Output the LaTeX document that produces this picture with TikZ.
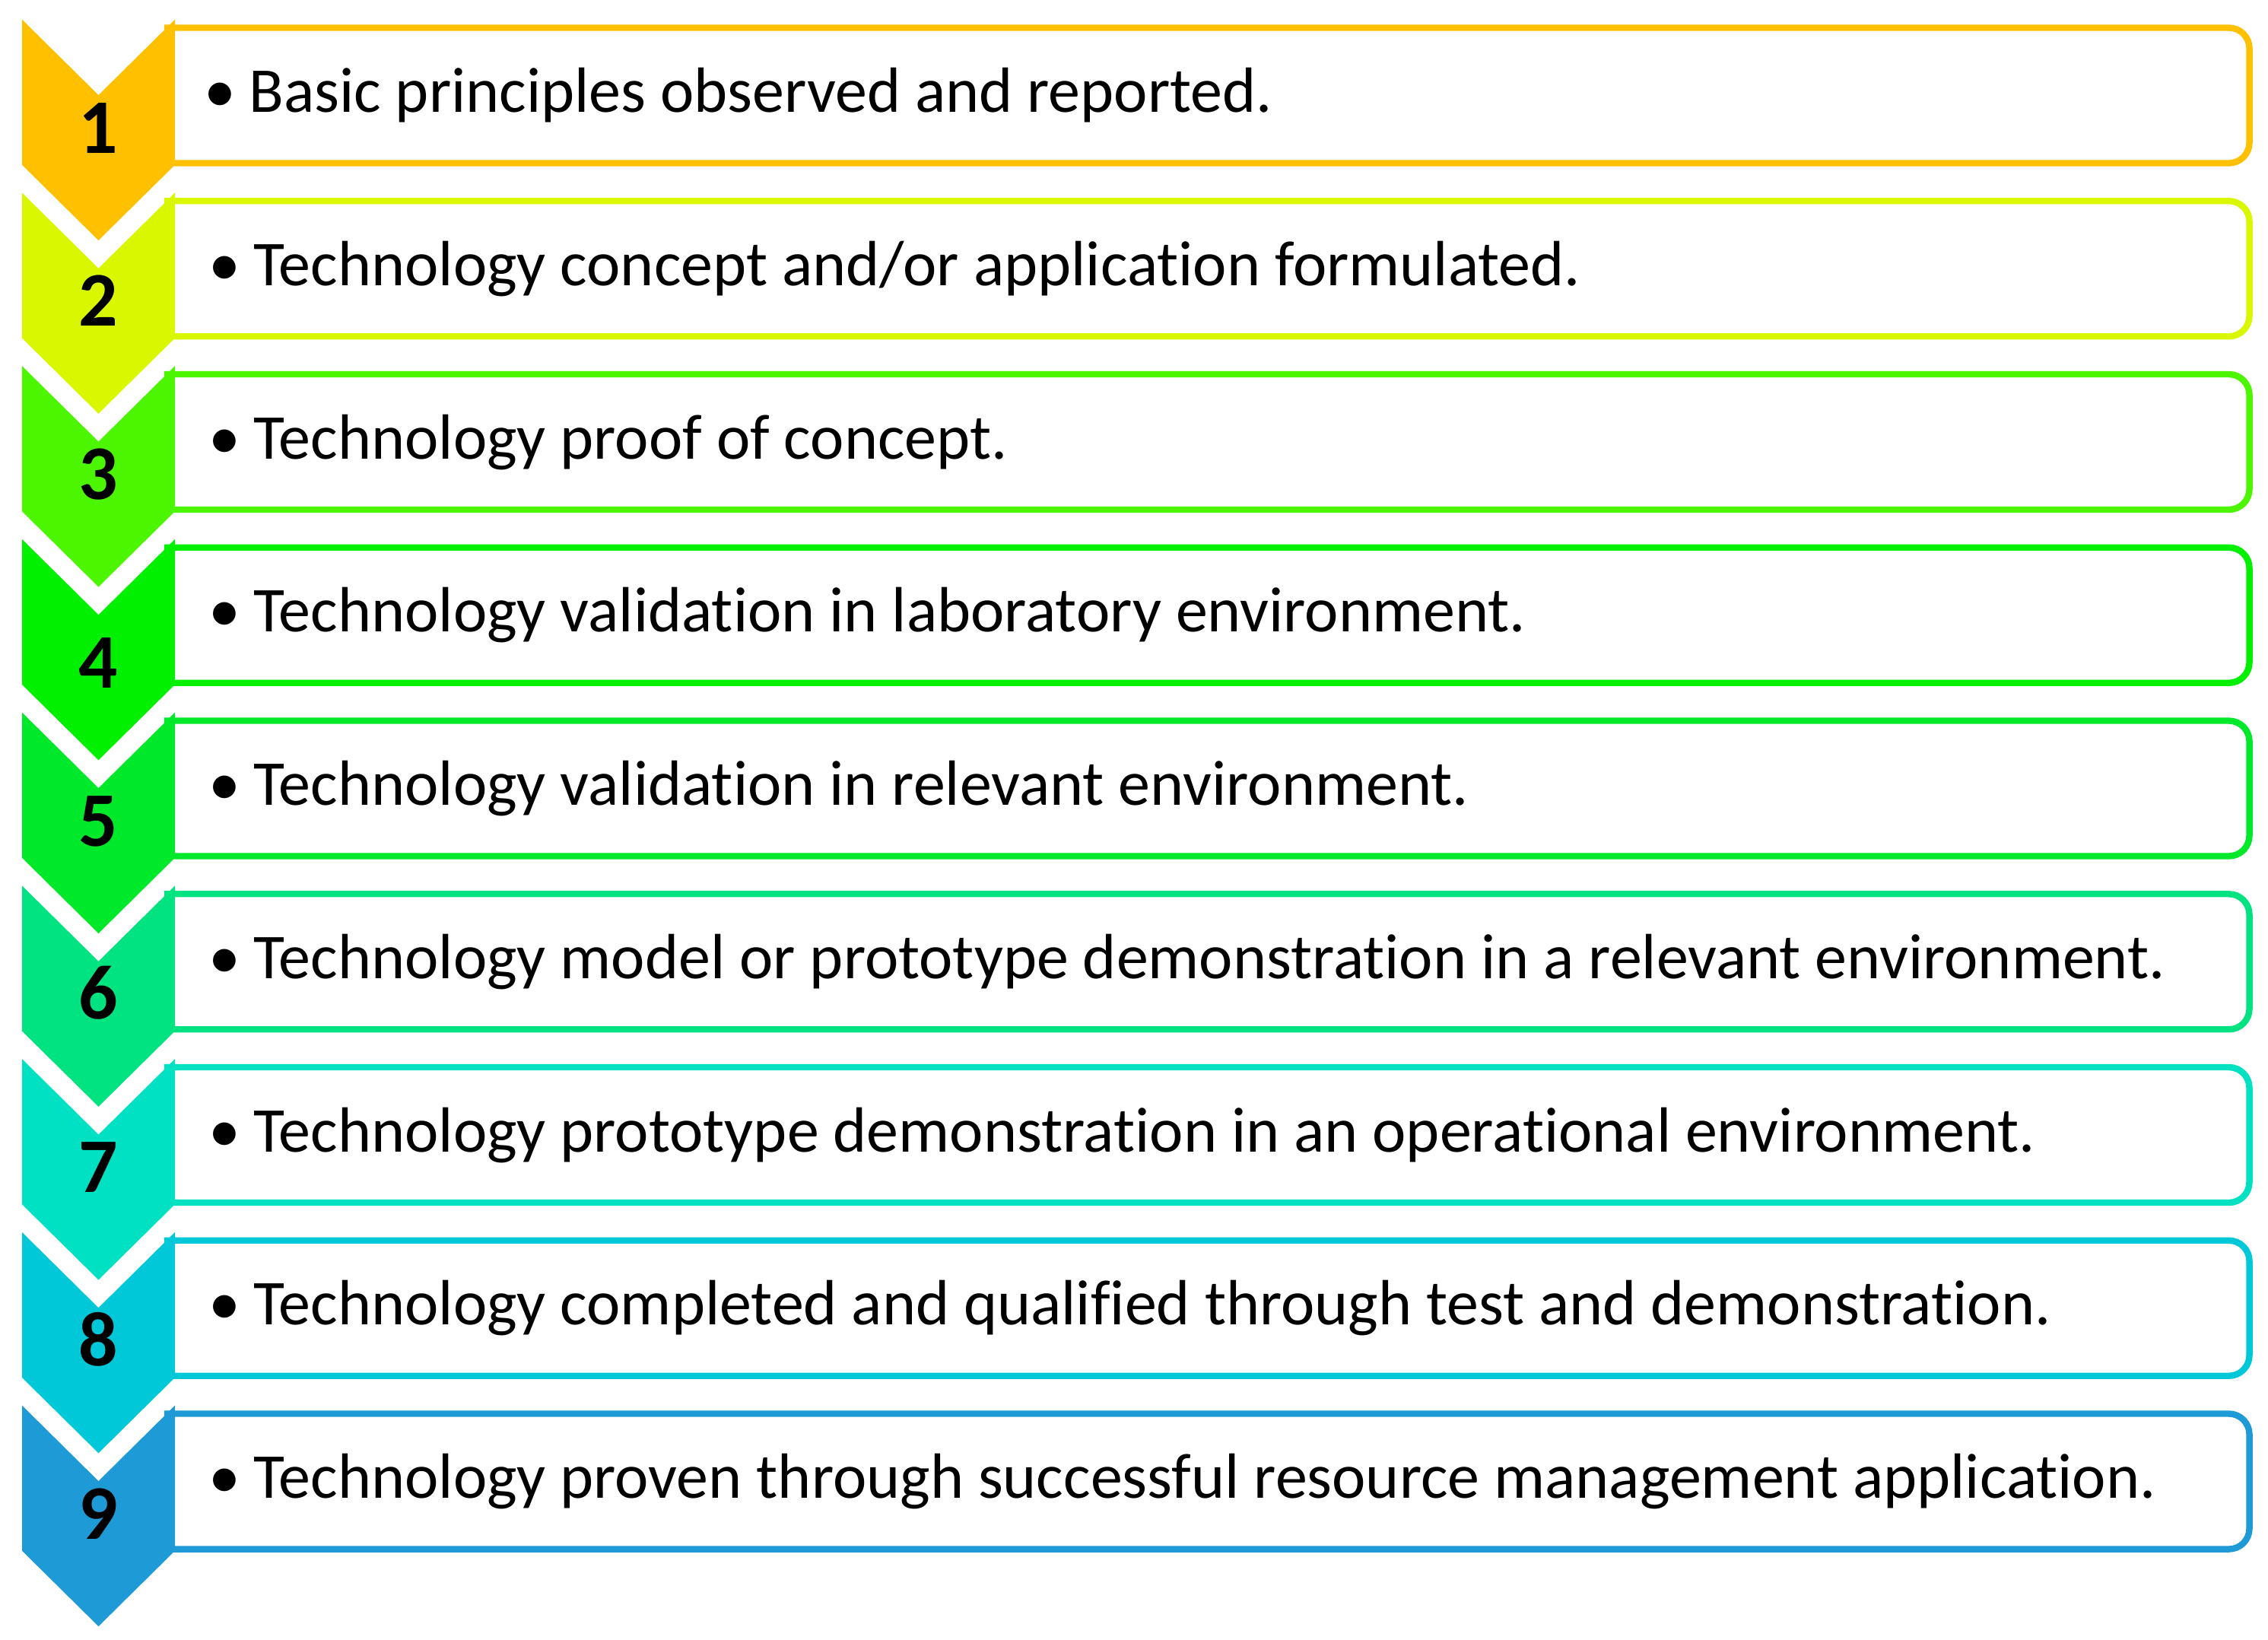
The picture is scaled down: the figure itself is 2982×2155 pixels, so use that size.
\documentclass[tikz,border=0pt]{standalone}
\usepackage{fontspec}
\setmainfont[Ligatures={NoCommon,NoDiscretionary,NoRare}]{Carlito}
\definecolor{cA}{HTML}{FFC000}
\definecolor{cB}{HTML}{D9F800}
\definecolor{cC}{HTML}{4CF500}
\definecolor{cD}{HTML}{00F000}
\definecolor{cE}{HTML}{00E82A}
\definecolor{cF}{HTML}{00E380}
\definecolor{cG}{HTML}{00E0C2}
\definecolor{cH}{HTML}{00C8D8}
\definecolor{cI}{HTML}{1E9BD7}
\tikzset{
  boxline/.style={draw=#1, line width=2.1pt, fill=white},
  chevfill/.style={fill=#1},
  numtext/.style={inner sep=0pt, font=\fontsize{25.4}{30}\selectfont\bfseries, text=black},
  rowtext/.style={inner sep=0pt, font=\fontsize{21}{25}\selectfont, text=black}
}
% #1 index, #2 colour, #3 text x, #4 number baseline offset, #5 text
\newcommand{\trlrow}[5]{%
  \pgfmathsetmacro\yy{25.7+227.75*(#1-1)}%
  \draw[boxline=#2] (220,\yy+10.8) -- (2930.5,\yy+10.8)
     arc[start angle=90,end angle=0,radius=6.75pt] -- (2957.5,\yy+161.8)
     arc[start angle=0,end angle=-90,radius=6.75pt] -- (220,\yy+188.8) -- cycle;
  \fill[chevfill=#2] (29,\yy) -- (129.5,\yy+99.3) -- (230,\yy) -- (230,\yy+191)
     -- (129.5,\yy+290.3) -- (29,\yy+191) -- cycle;
  \node[numtext, anchor=base] (num#1) at (129.5,\yy+#4) {#1};
  \node[rowtext, anchor=base west] (txt#1) at (#3,\yy+122) {•\hspace{0.2em}#5};
}
\begin{document}
\begin{tikzpicture}[x=0.25pt,y=-0.25pt]
\useasboundingbox (0,0) rectangle (2982,2155);
\trlrow{1}{cA}{268}{175.3}{Basic principles observed and reported.}
\trlrow{2}{cB}{274}{175.3}{Technology concept and/or application formulated.}
\trlrow{3}{cC}{274}{175.3}{Technology proof of concept.}
\trlrow{4}{cD}{274}{196}{Technology validation in laboratory environment.}
\trlrow{5}{cE}{274}{175.3}{Technology validation in relevant environment.}
\trlrow{6}{cF}{274}{175.3}{Technology model or prototype demonstration in a relevant environment.}
\trlrow{7}{cG}{274}{175.3}{Technology prototype demonstration in an operational environment.}
\trlrow{8}{cH}{274}{175.3}{Technology completed and qualified through test and demonstration.}
\trlrow{9}{cI}{274}{175.3}{Technology proven through successful resource management application.}
\end{tikzpicture}
\end{document}
